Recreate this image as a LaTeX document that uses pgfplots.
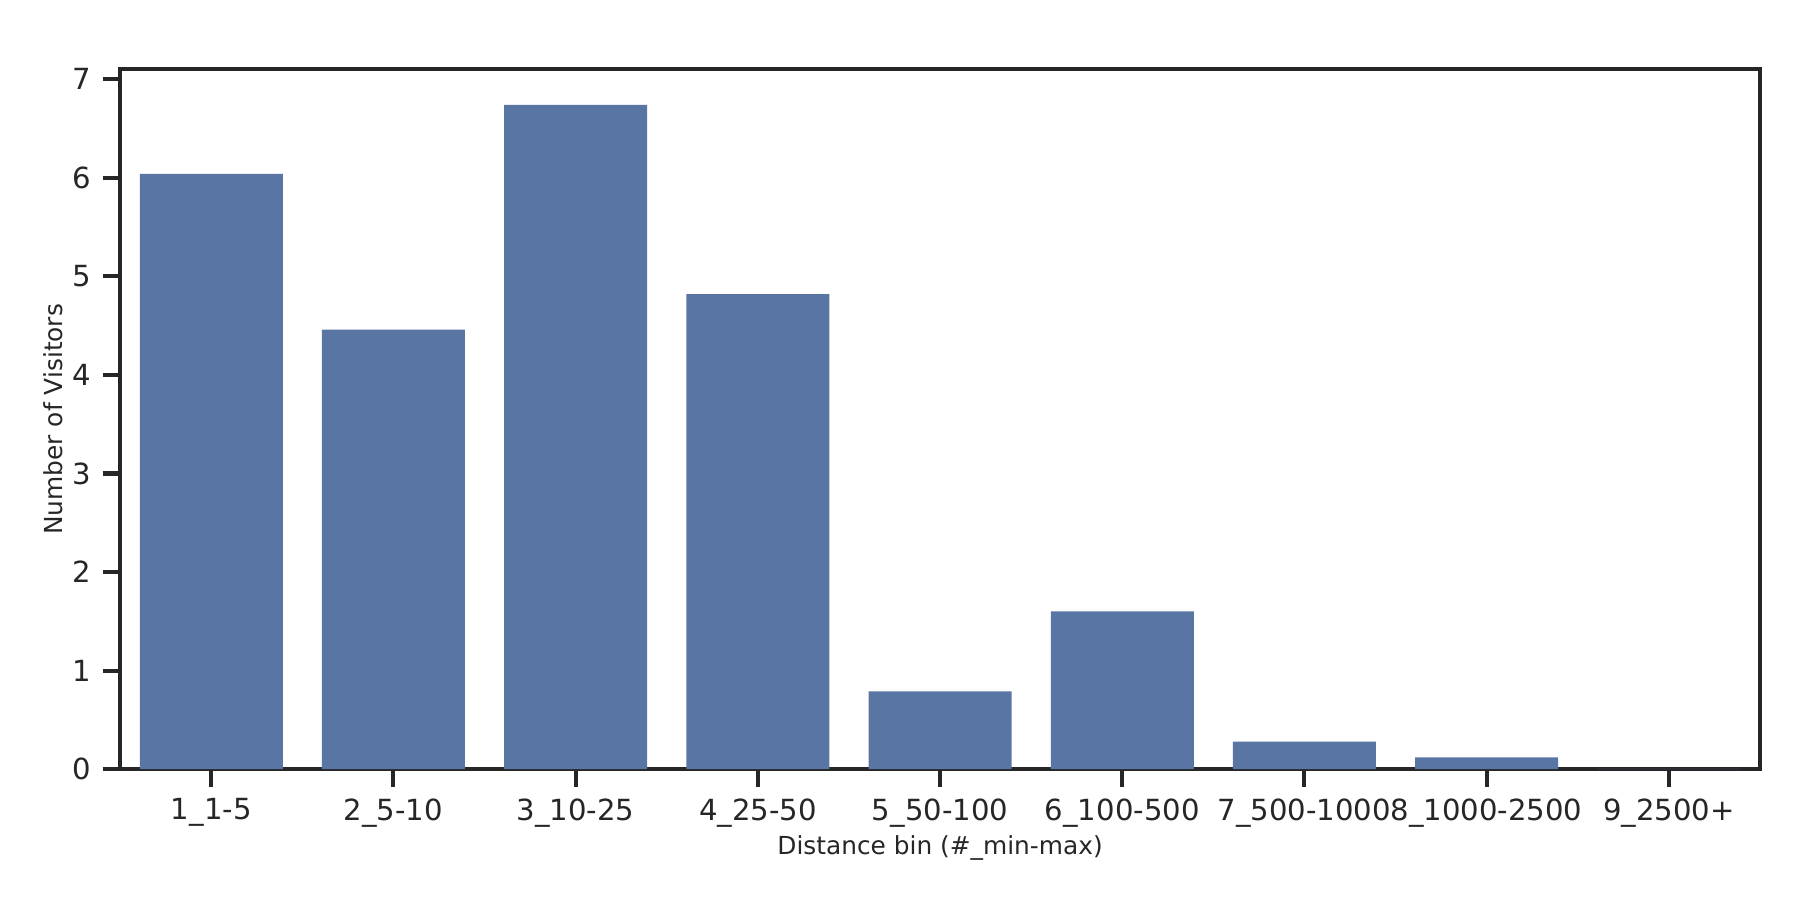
\documentclass[border=0pt]{standalone}
\usepackage{pgfplots}
\pgfplotsset{compat=1.18}
\usepackage{fontspec}
\setmainfont{DejaVu Sans}

\definecolor{bar}{HTML}{5975A4}
\definecolor{ink}{HTML}{262626}

\begin{document}
\begin{tikzpicture}
\useasboundingbox (-45pt,-49.5pt) rectangle (629pt,288pt);
\begin{axis}[
    at={(0,0)}, anchor=south west,
    scale only axis,
    width=614pt, height=262pt,
    xmin=-0.5, xmax=8.5,
    ymin=0, ymax=7.1,
    xtick={0,...,8},
    xticklabels={1\_1-5, 2\_5-10, 3\_10-25, 4\_25-50, 5\_50-100, 6\_100-500, 7\_500-1000, 8\_1000-2500, 9\_2500+},
    ytick={0,...,7},
    tick align=outside,
    tick pos=left,
    major tick length=6.5pt,
    every tick/.style={ink, line width=1.5pt},
    axis line style={ink, line width=1.5pt},
    ticklabel style={font=\fontsize{10.9}{12}\selectfont, text=ink},
    /pgf/number format/assume math mode=true,
    xticklabel style={yshift=-1pt},
    yticklabel style={xshift=-1pt},
    xlabel={Distance bin (\#\_min-max)},
    ylabel={Number of Visitors},
    label style={font=\fontsize{9.3}{11}\selectfont, text=ink},
    xlabel style={at={(axis description cs:0.5,-0.112)}, anchor=center},
    ylabel style={at={(axis description cs:-0.0407,0.5)}, anchor=center},
    ybar, bar width=0.785, bar shift=0pt,
]
\addplot[fill=bar, draw=none] coordinates {
    (0,6.04) (1,4.46) (2,6.74) (3,4.82) (4,0.79) (5,1.60) (6,0.28) (7,0.12) (8,0.003)
};
\node[anchor=south west, inner sep=0pt, font=\fontsize{10.9}{12}\selectfont, text=ink]
    at (rel axis cs:0,1) [yshift=2.5pt] {1e6};
\end{axis}
\end{tikzpicture}
\end{document}
